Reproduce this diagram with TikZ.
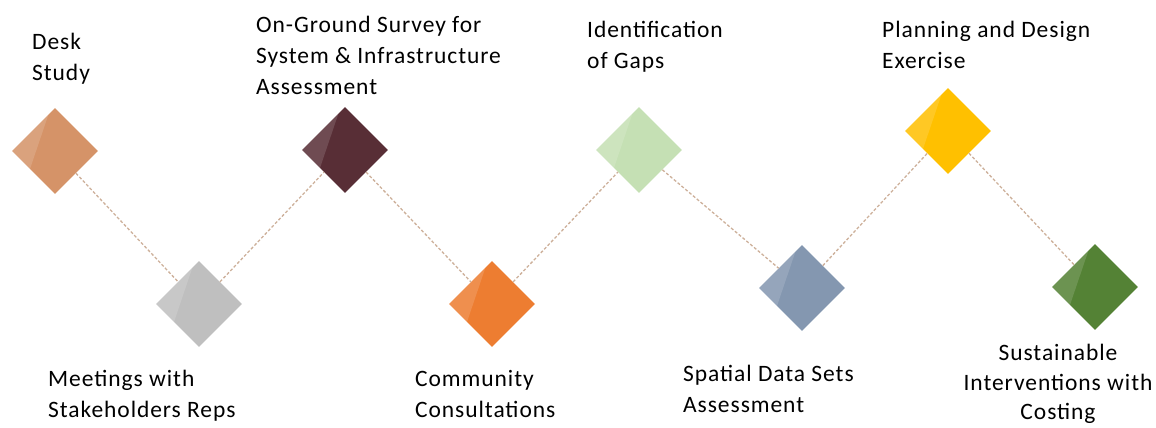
\documentclass[tikz,border=0pt]{standalone}
\usepackage{fontspec}
\setmainfont{Carlito}[LetterSpace=4]
\usepackage{xcolor}
\usetikzlibrary{shapes.geometric,calc}
\definecolor{tanC}{HTML}{D59368}
\definecolor{greyC}{HTML}{BFBFBF}
\definecolor{wineC}{HTML}{582E36}
\definecolor{orangeC}{HTML}{ED7D31}
\definecolor{mintC}{HTML}{C5E0B4}
\definecolor{slateC}{HTML}{8497B0}
\definecolor{goldC}{HTML}{FFC000}
\definecolor{leafC}{HTML}{548235}
\definecolor{linkC}{HTML}{CDB09A}
\newcommand{\sheen}[1]{%
  \fill[white,opacity=.14] (#1.west) -- ($(#1.west)!.85!(#1.north)$)
    -- ($(#1.west)!.42!(#1.south)$) -- cycle;}

\begin{document}
\begin{tikzpicture}[x=1pt,y=-1pt,
  gem/.style={diamond,aspect=1,minimum width=86pt,minimum height=86pt,inner sep=0pt,fill=#1},
  lbl/.style={anchor=north west,inner sep=0pt,align=left,
     font=\fontsize{23.5}{31}\selectfont},
  link/.style={draw=linkC,line width=1.3pt,dash pattern=on 3pt off 2pt}]
\useasboundingbox (0,0) rectangle (1156,428);
% milestones
\node[gem=tanC] (desk) at (55,151) {};
\node[gem=greyC] (meet) at (199,304) {};
\node[gem=wineC] (survey) at (345,150) {};
\node[gem=orangeC] (comm) at (492,304) {};
\node[gem=mintC] (gaps) at (639,150) {};
\node[gem=slateC] (spatial) at (802,288) {};
\node[gem=goldC] (plan) at (948,131) {};
\node[gem=leafC] (cost) at (1095,287) {};
\sheen{desk} \sheen{meet} \sheen{survey} \sheen{comm}
\sheen{gaps} \sheen{spatial} \sheen{plan} \sheen{cost}
% dashed zig-zag
\draw[link] (desk)--(meet); \draw[link] (meet)--(survey);
\draw[link] (survey)--(comm); \draw[link] (comm)--(gaps);
\draw[link] (gaps)--(spatial); \draw[link] (spatial)--(plan);
\draw[link] (plan)--(cost);
% captions
\node[lbl] (desktxt) at (32,33) {Desk\\Study};
\node[lbl] (surveytxt) at (256,16) {On-Ground Survey for\\System \& Infrastructure\\Assessment};
\node[lbl] (gapstxt) at (587,21) {Identification\\of Gaps};
\node[lbl] (plantxt) at (882,21) {Planning and Design\\Exercise};
\node[lbl] (meettxt) at (48,370) {Meetings with\\Stakeholders Reps};
\node[lbl] (commtxt) at (415,370) {Community\\Consultations};
\node[lbl] (spatialtxt) at (683,365) {Spatial Data Sets\\Assessment};
\node[lbl,anchor=north,align=center,font=\fontsize{23.5}{29.5}\selectfont] (costtxt)
  at (1058,344) {Sustainable\\Interventions with\\Costing};
\end{tikzpicture}
\end{document}
